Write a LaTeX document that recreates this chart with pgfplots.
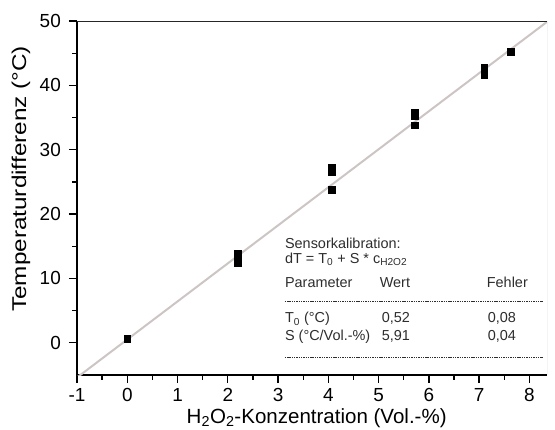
\documentclass[border=0pt]{standalone}
\usepackage{fontspec}
\setmainfont{Liberation Sans}
\usepackage{pgfplots}
\pgfplotsset{compat=1.18}
\definecolor{fitgray}{RGB}{205,196,196}
\definecolor{insettext}{RGB}{45,45,45}

\begin{document}
\begin{tikzpicture}
\begin{axis}[
  at={(0,0)}, anchor=south west,
  scale only axis, width=470bp, height=354bp,
  xmin=-1, xmax=8.35, ymin=-5, ymax=50,
  xtick={-1,0,...,8}, ytick={0,10,...,50},
  minor x tick num=1, minor y tick num=1,
  axis x line*=bottom, axis y line*=left,
  axis line style={line width=1.6bp, -},
  tick align=outside,
  major tick length=8bp, minor tick length=4.5bp,
  every tick/.style={line width=1.3bp, black},
  every minor tick/.style={line width=1.3bp, black},
  /pgf/number format/assume math mode=true,
  tick label style={font=\fontsize{19}{22}\selectfont},
  xticklabel style={inner sep=0bp, yshift=-5bp},
  yticklabel style={inner sep=1bp, xshift=-7bp},
  xlabel={H\textsubscript{2}O\textsubscript{2}-Konzentration (Vol.-\%)},
  ylabel={\scalebox{1.22}[1]{Temperaturdifferenz (°C)}},
  xlabel style={font=\fontsize{20.6}{24}\selectfont, inner sep=0bp, at={(axis description cs:0.51,0)}, anchor=center, yshift=-43bp},
  ylabel style={font=\fontsize{20}{24}\selectfont, at={(axis description cs:-0.119,0.554)}, anchor=center},
  clip=true,
]
% lineare Anpassung dT = 0.52 + 5.91 c
\addplot[color=fitgray, line width=2bp] coordinates {(-1,-5.39) (8.35,49.87)};

\addplot[only marks, mark=square*, mark size=3.4bp, black] coordinates {
  (0,0.6)
  (2.2,12.5) (2.2,13.2) (2.2,13.9)
  (4.07,23.8) (4.07,26.6) (4.07,27.2)
  (5.72,33.8) (5.72,35.2) (5.72,35.8)
  (7.1,41.7) (7.1,42.3) (7.1,42.8)
  (7.63,45.2)
};

% Rahmen oben/rechts
\draw[line width=1.6bp, black!85] (rel axis cs:0,1) -- (rel axis cs:1,1);
\draw[line width=0.8bp, black!35] (rel axis cs:1,0) -- (rel axis cs:1,1);

% Tabelle
\begin{scope}[every node/.style={font=\fontsize{14.5}{17}\selectfont, text=insettext, anchor=base west, inner sep=0pt}]
\node at (axis cs:3.135,14.6) {Sensorkalibration:};
\node at (axis cs:3.135,12.3) {dT = T\textsubscript{0} + S * c\textsubscript{H2O2}};
\node at (axis cs:3.135,8.6) {Parameter};
\node at (axis cs:5.02,8.6) {Wert};
\node at (axis cs:7.15,8.6) {Fehler};
\node at (axis cs:3.135,3.1) {T\textsubscript{0} (°C)};
\node at (axis cs:5.06,3.1) {0,52};
\node at (axis cs:7.17,3.1) {0,08};
\node at (axis cs:3.135,0.3) {S (°C/Vol.-\%)};
\node at (axis cs:5.06,0.3) {5,91};
\node at (axis cs:7.17,0.3) {0,04};
\end{scope}
\draw[insettext, line width=0.7bp, dash pattern=on 1.4bp off 0.9bp] (axis cs:3.135,6.4) -- (axis cs:8.26,6.4);
\draw[insettext, line width=0.7bp, dash pattern=on 1.4bp off 0.9bp] (axis cs:3.135,-2.3) -- (axis cs:8.26,-2.3);
\end{axis}
\pgfresetboundingbox
\path (-77bp,-55bp) rectangle (478bp,375bp);
\end{tikzpicture}
\end{document}
